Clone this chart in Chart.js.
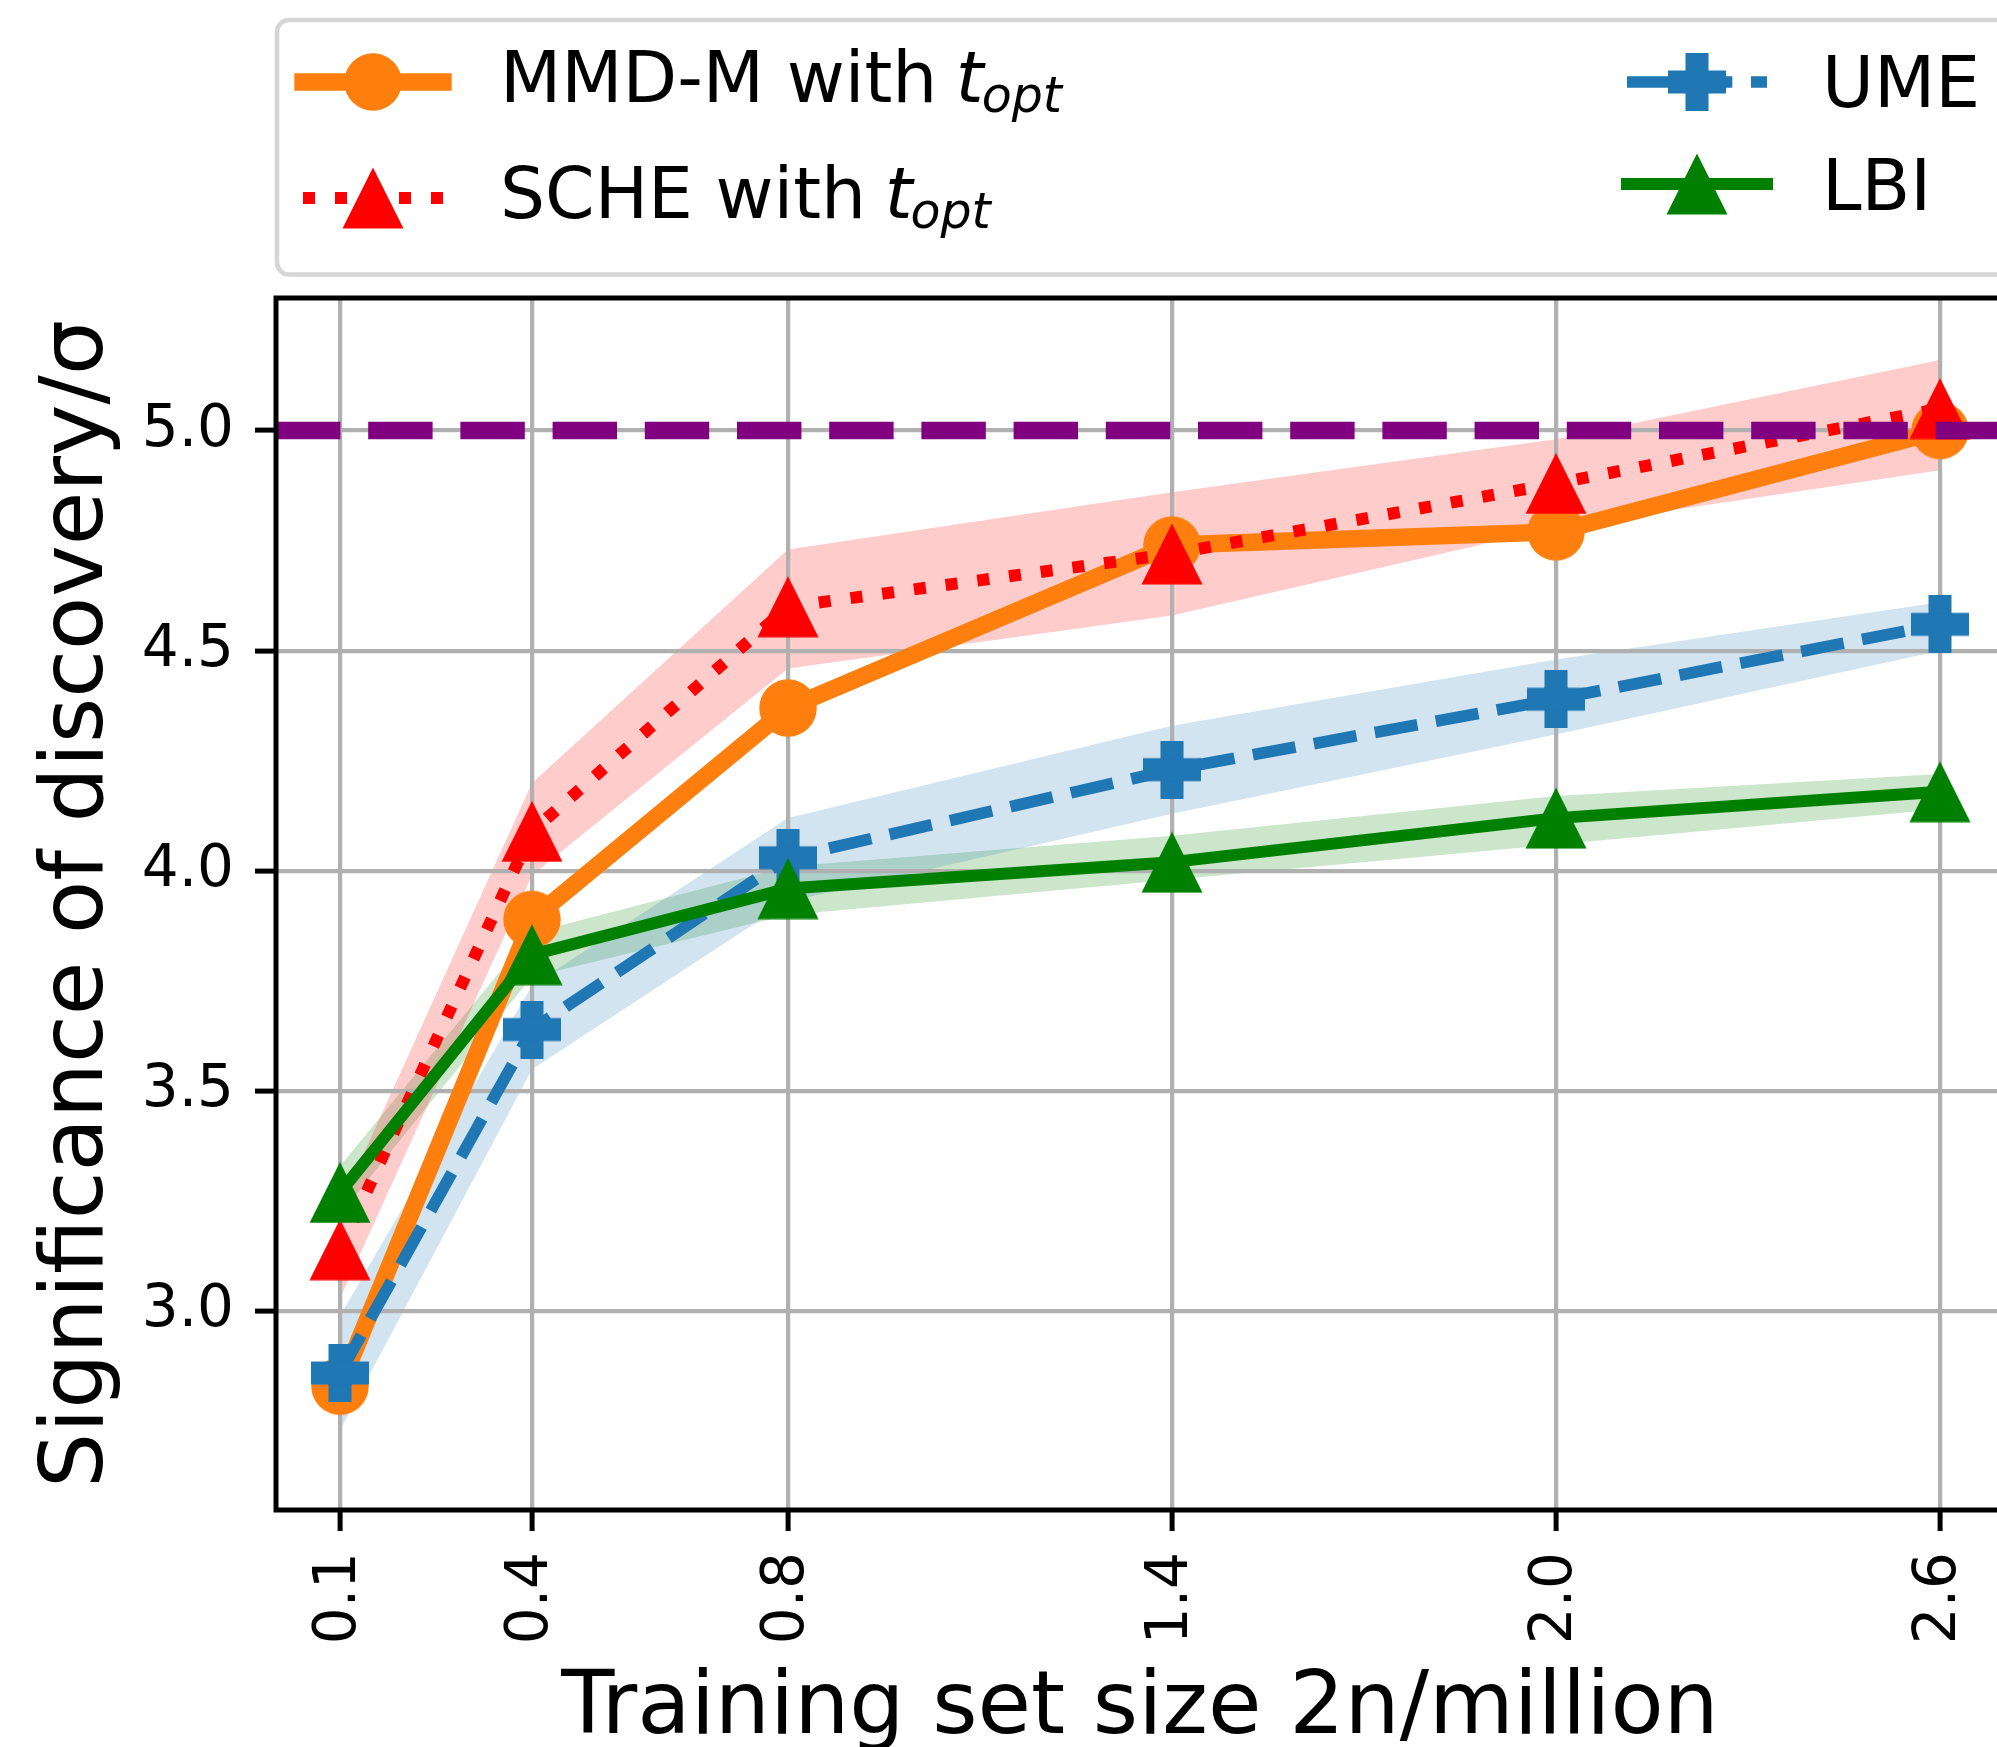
<!DOCTYPE html>
<html>
<head>
<meta charset="utf-8">
<script src="https://cdn.jsdelivr.net/npm/chart.js@4.4.1/dist/chart.umd.min.js"></script>
<style>
    html, body { margin: 0; padding: 0; background: #fff; overflow: hidden; }
    #wrap { width: 1997px; height: 1747px; overflow: hidden; }
</style>
</head>
<body>
<div id="wrap"><canvas id="myChart" width="2064" height="1747"></canvas></div>
<script>
// training set size 2n / million
const sizes = [0.1, 0.4, 0.8, 1.4, 2.0, 2.6];
const yTicks = [3.0, 3.5, 4.0, 4.5, 5.0];

// significance of discovery (mean) and shaded band
const mmd   = [2.83, 3.89, 4.37, 4.74, 4.77, 5.00];
const mmdLo = [2.63, 3.76, 4.21, 4.64, 4.68, 4.86];
const mmdHi = [3.03, 4.02, 4.55, 4.82, 4.87, 5.09];

const sche   = [3.14, 4.09, 4.60, 4.72, 4.88, 5.05];
const scheLo = [3.03, 3.99, 4.46, 4.58, 4.78, 4.91];
const scheHi = [3.24, 4.20, 4.73, 4.86, 4.98, 5.16];

const ume   = [2.86, 3.64, 4.03, 4.23, 4.39, 4.56];
const umeLo = [2.73, 3.55, 3.93, 4.13, 4.31, 4.50];
const umeHi = [2.99, 3.74, 4.12, 4.33, 4.48, 4.61];

const lbi   = [3.27, 3.81, 3.96, 4.02, 4.12, 4.18];
const lbiLo = [3.22, 3.76, 3.90, 3.98, 4.06, 4.14];
const lbiHi = [3.33, 3.86, 4.01, 4.08, 4.17, 4.22];

const fiveSigma = 5.0;

const FONT = '"DejaVu Sans"';
Chart.defaults.font.family = FONT;
Chart.defaults.color = '#000';

function pts(arr) {
    return sizes.map((x, i) => ({x: x, y: arr[i]}));
}

function marker(kind, color) {
    const c = document.createElement('canvas');
    if (kind === 'circle') {
        c.width = c.height = 60;
        const g = c.getContext('2d');
        g.fillStyle = color;
        g.beginPath();
        g.arc(30, 30, 28.75, 0, Math.PI * 2);
        g.fill();
    } else if (kind === 'triangle') {
        c.width = c.height = 62;
        const g = c.getContext('2d');
        g.fillStyle = color;
        g.beginPath();
        g.moveTo(31, 0.5);
        g.lineTo(61.5, 61.5);
        g.lineTo(0.5, 61.5);
        g.closePath();
        g.fill();
    } else {
        c.width = c.height = 58;
        const g = c.getContext('2d');
        g.fillStyle = color;
        g.fillRect(17.5, 0, 23, 58);
        g.fillRect(0, 17.5, 58, 23);
    }
    return c;
}

const ORANGE = '#ff7f0e', RED = '#ff0000', BLUE = '#1f77b4', GREEN = '#008000', PURPLE = '#800080';
const mOrange = marker('circle', ORANGE);
const mRed = marker('triangle', RED);
const mBlue = marker('plus', BLUE);
const mGreen = marker('triangle', GREEN);

function band(lo, hi, color) {
    return [
        {data: pts(lo), borderWidth: 0, pointRadius: 0, fill: false, order: 20},
        {data: pts(hi), borderWidth: 0, pointRadius: 0, fill: '-1', backgroundColor: color, order: 20}
    ];
}

function series(arr, color, width, dash, style, order) {
    return {
        data: pts(arr), borderColor: color, borderWidth: width, borderDash: dash,
        borderCapStyle: 'butt', borderJoinStyle: 'round', tension: 0, fill: false,
        pointStyle: style, pointRadius: 30, pointHoverRadius: 30, order: order
    };
}

const datasets = [
    ...band(mmdLo, mmdHi, 'rgba(255,127,14,0.2)'),
    ...band(scheLo, scheHi, 'rgba(255,0,0,0.2)'),
    ...band(umeLo, umeHi, 'rgba(31,119,180,0.2)'),
    ...band(lbiLo, lbiHi, 'rgba(0,128,0,0.2)'),
    series(mmd, ORANGE, 17.4, [], mOrange, 5),
    series(sche, RED, 12, [12, 20], mRed, 4),
    series(ume, BLUE, 11.7, [43.3, 18.7], mBlue, 3),
    series(lbi, GREEN, 12, [], mGreen, 2),
    {data: [{x: 0, y: fiveSigma}, {x: 2.7, y: fiveSigma}], borderColor: PURPLE, borderWidth: 17.4,
     borderDash: [64.4, 27.8], borderCapStyle: 'butt', pointRadius: 0, fill: false, order: 1}
];

function drawParts(ctx, x, y, parts) {
    for (const p of parts) {
        ctx.font = p.font;
        x += p.dx || 0;
        ctx.fillText(p.text, x, y + (p.dy || 0));
        x += ctx.measureText(p.text).width;
    }
}

function drawHandle(ctx, x0, x1, y, color, width, dash, cap, m) {
    ctx.save();
    ctx.strokeStyle = color;
    ctx.lineWidth = width;
    ctx.setLineDash(dash);
    ctx.lineCap = cap;
    ctx.beginPath();
    ctx.moveTo(x0, y);
    ctx.lineTo(x1, y);
    ctx.stroke();
    ctx.restore();
    ctx.drawImage(m, (x0 + x1) / 2 - m.width / 2, y - m.height / 2);
}

const frame = {
    id: 'frame',
    afterDatasetsDraw(chart) {
        const {ctx, chartArea: a} = chart;
        ctx.save();
        ctx.strokeStyle = '#000';
        ctx.lineWidth = 5;
        ctx.lineCap = 'square';
        ctx.beginPath();
        ctx.moveTo(a.left, a.top);
        ctx.lineTo(a.right, a.top);
        ctx.lineTo(a.right, a.bottom);
        ctx.lineTo(a.left, a.bottom);
        ctx.closePath();
        ctx.stroke();
        ctx.restore();
    },
    afterDraw(chart) {
        const {ctx, chartArea: a} = chart;
        ctx.save();
        ctx.fillStyle = '#000';
        // axis titles
        ctx.font = '87px ' + FONT;
        ctx.textAlign = 'center';
        ctx.textBaseline = 'alphabetic';
        ctx.fillText('Training set size 2n/million', (a.left + a.right) / 2, 1733);
        ctx.save();
        ctx.translate(101.5, (a.top + a.bottom) / 2);
        ctx.rotate(-Math.PI / 2);
        ctx.fillText('Significance of discovery/σ', 0, 0);
        ctx.restore();

        // legend
        ctx.strokeStyle = '#d6d6d6';
        ctx.lineWidth = 4.5;
        ctx.fillStyle = 'rgba(255,255,255,0.8)';
        ctx.beginPath();
        ctx.roundRect(277, 20, 1760, 254.5, 12);
        ctx.fill();
        ctx.stroke();

        drawHandle(ctx, 303, 443, 82, ORANGE, 17.4, [], 'square', mOrange);
        drawHandle(ctx, 303, 443, 198, RED, 12, [12, 20], 'butt', mRed);
        drawHandle(ctx, 1627, 1767, 82, BLUE, 11.7, [43.3, 18.7], 'butt', mBlue);
        drawHandle(ctx, 1627, 1767, 184, GREEN, 12, [], 'square', mGreen);

        ctx.fillStyle = '#000';
        ctx.textAlign = 'left';
        const reg = '71px ' + FONT, it = 'italic 71px ' + FONT, sub = 'italic 49px ' + FONT;
        drawParts(ctx, 500, 102, [{text: 'MMD-M with ', font: reg}, {text: 't', font: it, dx: -4}, {text: 'opt', font: sub, dy: 10, dx: -2}]);
        drawParts(ctx, 500, 218, [{text: 'SCHE with ', font: reg}, {text: 't', font: it, dx: -4}, {text: 'opt', font: sub, dy: 10, dx: -2}]);
        drawParts(ctx, 1822, 106.5, [{text: 'UME', font: reg}]);
        drawParts(ctx, 1822, 209.5, [{text: 'LBI', font: reg}]);
        ctx.restore();
    }
};

new Chart(document.getElementById('myChart'), {
    type: 'line',
    data: {datasets: datasets},
    options: {
        responsive: false,
        animation: false,
        events: [],
        layout: {padding: {left: 0, right: 60, top: 298, bottom: 0}},
        plugins: {
            legend: {display: false},
            tooltip: {enabled: false},
            filler: {drawTime: 'beforeDraw'}
        },
        scales: {
            x: {
                type: 'linear', min: 0, max: 2.7,
                afterBuildTicks: (s) => { s.ticks = sizes.map(v => ({value: v})); },
                afterFit: (s) => { s.height = 237; s.paddingLeft = 0; s.paddingRight = 0; },
                border: {display: false},
                grid: {color: '#b0b0b0', lineWidth: 4.2, tickColor: '#000', tickWidth: 5, tickLength: 21},
                ticks: {
                    font: {size: 58}, padding: 21, minRotation: 90, maxRotation: 90, autoSkip: false,
                    callback: (v) => Number(v).toFixed(1)
                }
            },
            y: {
                type: 'linear', min: 2.549, max: 5.301,
                afterBuildTicks: (s) => { s.ticks = yTicks.map(v => ({value: v})); },
                afterFit: (s) => { s.width = 276; s.paddingTop = 0; s.paddingBottom = 0; },
                border: {display: false},
                grid: {color: '#b0b0b0', lineWidth: 4.2, tickColor: '#000', tickWidth: 5, tickLength: 21},
                ticks: {font: {size: 58}, padding: 21, callback: (v) => Number(v).toFixed(1)}
            }
        }
    },
    plugins: [frame]
});
</script>
</body>
</html>
